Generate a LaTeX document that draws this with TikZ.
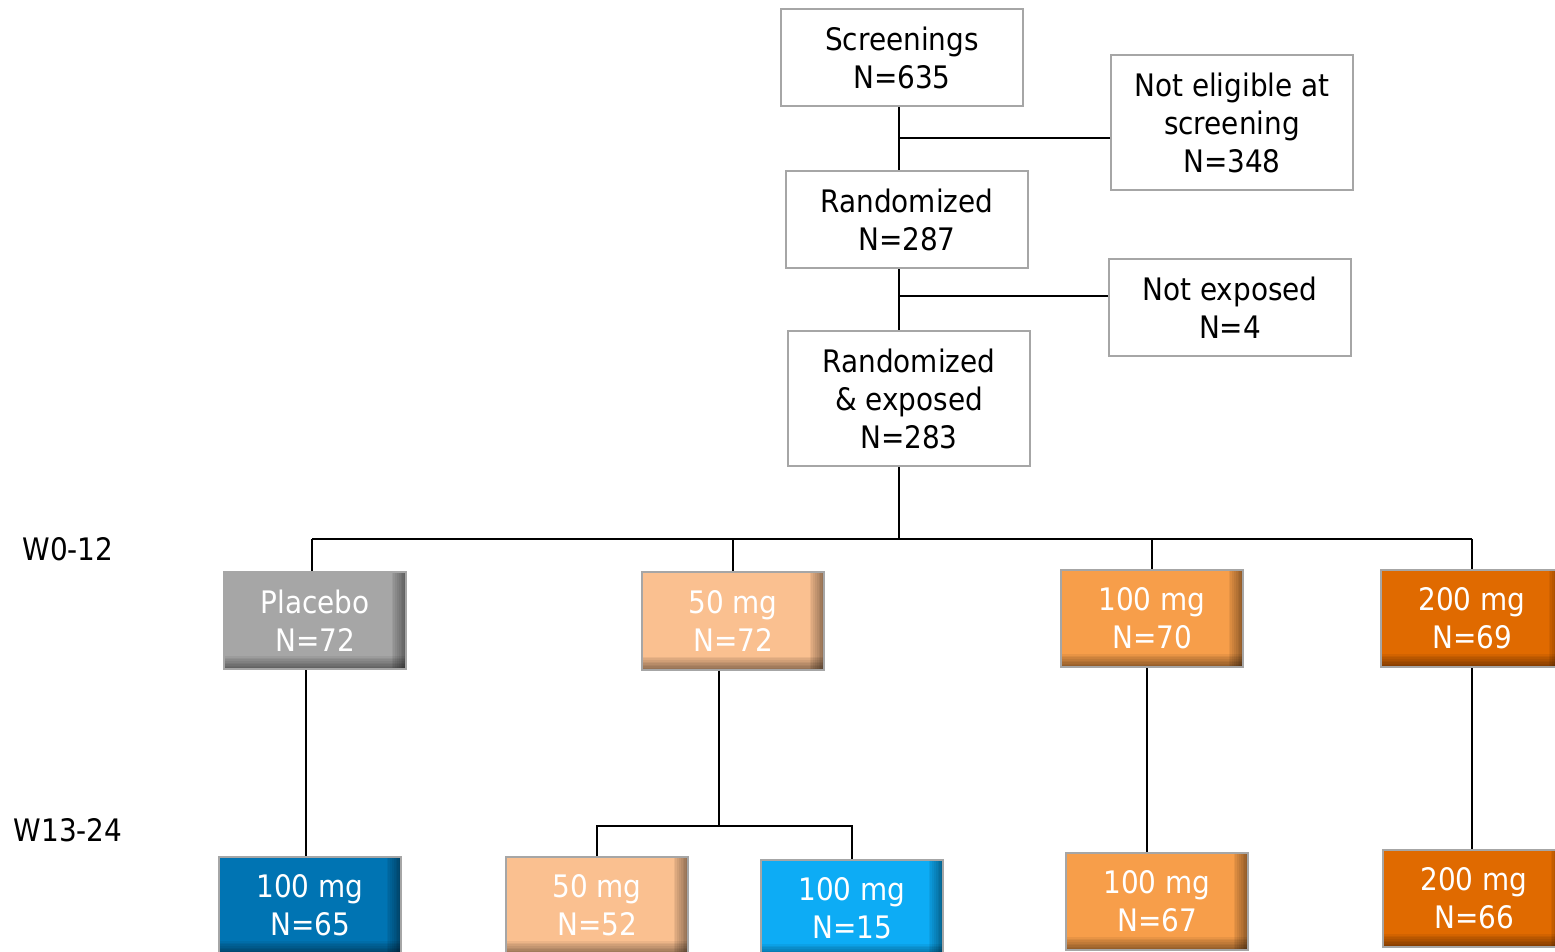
\documentclass[tikz,border=0pt]{standalone}
\usepackage{xcolor}
\usepackage{fontspec}
\setmainfont{DejaVu Sans Condensed}
\usetikzlibrary{positioning}

\definecolor{placebogray}{HTML}{A6A6A6}
\definecolor{lightorange}{HTML}{FAC090}
\definecolor{midorange}{HTML}{F79E4A}
\definecolor{darkorange}{HTML}{E06A00}
\definecolor{darkblue}{HTML}{0074B3}
\definecolor{brightblue}{HTML}{0DACF5}

\begin{document}
\begin{tikzpicture}[x=0.5pt, y=-0.5pt,
    font=\fontsize{15.5}{19}\selectfont,
    every node/.style={align=center, inner sep=0pt},
    whitebox/.style={draw=black!35, line width=1pt, fill=white,
      minimum width=121pt, minimum height=48.5pt},
    dosebox/.style={draw=black!35, line width=1pt, fill=#1, text=white,
      minimum width=91pt, minimum height=48.5pt,
      path picture={
        \foreach \i in {1,...,8} {
          \fill[black, opacity=0.06]
            (path picture bounding box.south west) rectangle ([yshift=\i*0.8pt]path picture bounding box.south east);
          \fill[black, opacity=0.06]
            ([xshift=-\i*0.9pt]path picture bounding box.north east) rectangle (path picture bounding box.south east);
        }
      }},
    link/.style={line width=1pt}]

  \useasboundingbox (0,0) rectangle (1555,952);
  \clip (0,0) rectangle (1555,952);

  % top of the flow
  \node[whitebox] (screen) at (902,57.5) {Screenings\\N=635};
  \node[whitebox, minimum height=67.5pt] (noteligible) at (1232,122.5) {Not eligible at\\screening\\N=348};
  \node[whitebox] (rand) at (907,220) {Randomized\\N=287};
  \node[whitebox] (notexposed) at (1230,308) {Not exposed\\N=4};
  \node[whitebox, minimum height=67.5pt] (exposed) at (909,398.5) {Randomized\\\& exposed\\N=283};

  % period labels
  \node (w0) at (68,549) {W0-12};
  \node (w13) at (68,830) {W13-24};

  % W0-12 arms
  \node[dosebox=placebogray] (placebo) at (315,620.5) {Placebo\\N=72};
  \node[dosebox=lightorange] (d50) at (733,621) {50 mg\\N=72};
  \node[dosebox=midorange] (d100) at (1152,618.5) {100 mg\\N=70};
  \node[dosebox=darkorange] (d200) at (1472,618.5) {200 mg\\N=69};

  % W13-24 arms
  \node[dosebox=darkblue] (p100) at (310,905.5) {100 mg\\N=65};
  \node[dosebox=lightorange] (s50) at (597,905.5) {50 mg\\N=52};
  \node[dosebox=brightblue] (s100) at (852,908.5) {100 mg\\N=15};
  \node[dosebox=midorange] (k100) at (1157,901.5) {100 mg\\N=67};
  \node[dosebox=darkorange] (k200) at (1474,898.5) {200 mg\\N=66};

  % connectors
  \coordinate (spine) at (899,0);
  \coordinate (cut1) at (0,138);
  \coordinate (cut2) at (0,296);
  \draw[link] (screen.south -| spine) -- (rand.north -| spine);
  \draw[link] (noteligible.west |- cut1) -- (spine |- cut1);
  \draw[link] (rand.south -| spine) -- (exposed.north -| spine);
  \draw[link] (notexposed.west |- cut2) -- (spine |- cut2);

  \coordinate (split) at (899,539);
  \draw[link] (exposed.south -| spine) -- (split);
  \draw[link] ([xshift=-1.5pt]placebo.north |- split) -- (d200.north |- split);
  \draw[link] ([xshift=-1.5pt]placebo.north |- split) -- ([xshift=-1.5pt]placebo.north);
  \foreach \arm in {d50, d100, d200} {
    \draw[link] (\arm.north |- split) -- (\arm.north);
  }

  \draw[link] ([xshift=-4.5pt]placebo.south) -- ([xshift=-4.5pt]placebo.south |- p100.north);
  \draw[link] ([xshift=-2.5pt]d100.south) -- ([xshift=-2.5pt]d100.south |- k100.north);
  \draw[link] (d200.south) -- (d200.south |- k200.north);

  \coordinate (rerand) at (719,826);
  \draw[link] (d50.south -| rerand) -- (rerand);
  \draw[link] (s50.north) -- (s50.north |- rerand) -- (s100.north |- rerand) -- (s100.north);

\end{tikzpicture}
\end{document}
